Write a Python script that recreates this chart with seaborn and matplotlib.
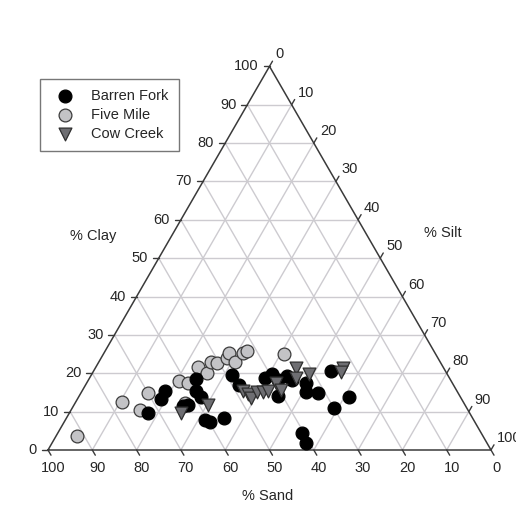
import numpy as np
import pandas as pd
import matplotlib
matplotlib.use("Agg")
import matplotlib.pyplot as plt
import seaborn as sns

sns.set_style("white")
plt.rcParams["font.family"] = ["Liberation Sans", "DejaVu Sans"]

# % sand and % clay (silt = 100 - sand - clay)
bf_sand = [72.6, 67.9, 65.9, 63.8, 62.5, 57.3, 58.9, 58.6, 60.7, 59.8, 56.1, 48.7, 48.4,
           41.6, 39.5, 39.0, 36.4, 35.8, 41.0, 33.0, 34.2, 31.6, 25.8, 25.2, 30.0, 40.5, 40.9]
bf_clay = [9.6, 13.3, 15.4, 11.5, 11.7, 18.5, 15.4, 13.8, 7.8, 7.3, 8.3, 19.5, 16.9,
           18.8, 19.8, 18.2, 19.3, 18.2, 14.1, 17.5, 15.1, 14.9, 20.6, 13.8, 10.9, 4.4, 1.8]

fm_sand = [91.7, 77.0, 74.0, 70.0, 61.4, 59.6, 63.0, 55.3, 54.1, 51.7, 50.5, 47.6, 46.5,
           46.3, 43.3, 42.2, 34.2]
fm_clay = [3.6, 12.5, 10.4, 14.9, 18.0, 17.5, 12.2, 21.6, 20.1, 22.9, 22.7, 24.0, 25.3,
           22.9, 25.3, 25.8, 25.0]

cc_sand = [65.2, 58.0, 48.3, 47.6, 47.4, 45.3, 43.9, 42.6, 39.8, 39.6, 33.3, 34.6, 31.2,
           22.7, 23.7]
cc_clay = [9.6, 11.7, 15.4, 14.6, 13.6, 15.1, 15.1, 15.4, 17.5, 15.6, 21.4, 18.8, 19.8,
           21.4, 20.3]

ticks = list(range(0, 101, 10))

H = np.sqrt(3) / 2


def tern(sand, clay):
    sand = np.asarray(sand, float)
    clay = np.asarray(clay, float)
    silt = 100 - sand - clay
    return (silt + clay / 2) / 100, clay / 100 * H


frames = []
for name, sa, cl in [("Five Mile", fm_sand, fm_clay),
                     ("Barren Fork", bf_sand, bf_clay),
                     ("Cow Creek", cc_sand, cc_clay)]:
    x, y = tern(sa, cl)
    frames.append(pd.DataFrame({"x": x, "y": y, "site": name}))
df = pd.concat(frames, ignore_index=True)

fig = plt.figure(figsize=(5.16, 5.08), dpi=100)
ax = fig.add_axes([0, 0, 1, 1])
px = 1 / 443
ax.set_xlim(-48 * px, 468 * px)
ax.set_ylim(-58 * px, 450 * px)
ax.axis("off")

grid_c = "#cdcbd0"
edge_c = "#3a3a3a"
for v in ticks[1:-1]:
    f = v / 100
    # constant clay
    ax.plot([f / 2, 1 - f / 2], [f * H, f * H], color=grid_c, lw=1, zorder=1)
    # constant sand (parallel to right edge)
    ax.plot([1 - f, (1 - f) / 2], [0, (1 - f) * H], color=grid_c, lw=1, zorder=1)
    # constant silt (parallel to left edge)
    ax.plot([f, 0.5 + f / 2], [0, (1 - f) * H], color=grid_c, lw=1, zorder=1)

ax.plot([0, 1, 0.5, 0], [0, 0, H, 0], color=edge_c, lw=1.1, zorder=2)

tl = 6 * px
fs = 10.5
for v in ticks:
    f = v / 100
    # left axis: clay
    lx, ly = f / 2, f * H
    ax.plot([lx, lx - tl], [ly, ly], color=edge_c, lw=1)
    ax.text(lx - 11 * px, ly, str(v), ha="right", va="center", fontsize=fs)
    # right axis: silt
    rx, ry = 0.5 + f / 2, (1 - f) * H
    ax.plot([rx, rx + tl * 0.5], [ry, ry + tl * H], color=edge_c, lw=1)
    ax.text(rx + 6 * px, ry + 12 * px, str(v), ha="left", va="center", fontsize=fs)
    # bottom axis: sand
    bx = 1 - f
    ax.plot([bx, bx + tl * 0.5], [0, -tl * H], color=edge_c, lw=1)
    ax.text(bx + 5 * px, -18 * px, str(v), ha="center", va="center", fontsize=fs)

ax.text((93 - 48) * px, (450 - 236) * px, "% Clay", ha="center", va="center", fontsize=fs)
ax.text((443 - 48) * px, (450 - 233) * px, "% Silt", ha="center", va="center", fontsize=fs)
ax.text((268 - 48) * px, -46 * px, "% Sand", ha="center", va="center", fontsize=fs)

styles = {
    "Five Mile": dict(color="#c3c3c6", marker="o", edgecolor="#3c3c3c"),
    "Barren Fork": dict(color="black", marker="o", edgecolor="black"),
    "Cow Creek": dict(color="#6e6e72", marker="v", edgecolor="#2e2e2e"),
}
for name in ["Five Mile", "Barren Fork", "Cow Creek"]:
    sub = df[df["site"] == name]
    sns.scatterplot(data=sub, x="x", y="y", ax=ax, s=85, linewidth=0.9,
                    label=name, zorder=3, clip_on=False, **styles[name])

h, l = ax.get_legend_handles_labels()
order = [l.index("Barren Fork"), l.index("Five Mile"), l.index("Cow Creek")]
leg = ax.legend([h[i] for i in order], [l[i] for i in order],
                loc="upper left", bbox_to_anchor=(40 / 516, 1 - 79 / 508),
                bbox_transform=fig.transFigure, fancybox=False, frameon=True,
                edgecolor="#555555", fontsize=fs, borderpad=0.7,
                handletextpad=0.8, labelspacing=0.33, borderaxespad=0)
leg.get_frame().set_linewidth(1)

fig.savefig("out.png", dpi=100, facecolor="white")
